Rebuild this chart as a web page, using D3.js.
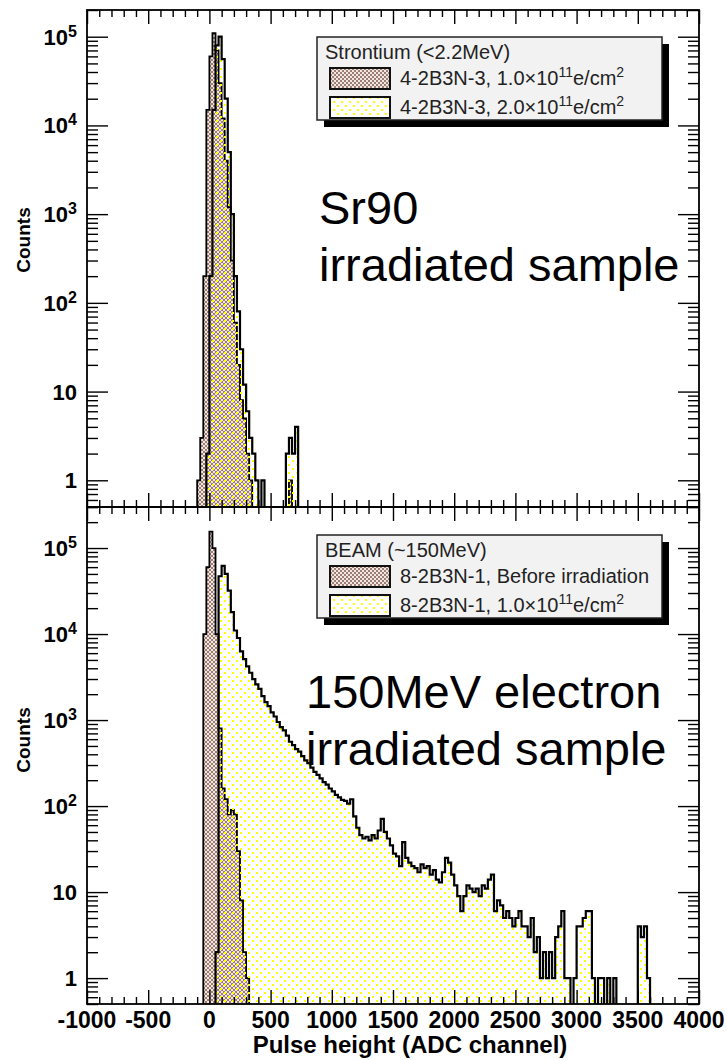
<!DOCTYPE html>
<html>
<head>
<meta charset="utf-8">
<script src="https://cdnjs.cloudflare.com/ajax/libs/d3/7.8.5/d3.min.js"></script>
<style>
  body { margin: 0; background: #fff; }
  text { font-family: "Liberation Sans", Arial, Helvetica, sans-serif; }
</style>
</head>
<body>
<svg id="chart" width="727" height="1060"></svg>
<script>
// every histogram uses 25 ADC channel bins
var binWidth = 25;

// Sr90 panel, first bin starts at -100
var srFirstEdge = -100;
var srCounts1e11 = [1, 3, 200, 15000, 60000, 110000, 70000, 30000, 12000, 4000, 1200, 300, 60, 20, 8, 5, 2, 1,
  0, 0, 0, 0, 0, 0, 0, 0, 0, 0, 0, 0, 1, 0, 0];
var srCounts2e11 = [0, 0, 0, 2, 200, 15000, 80000, 100000, 56000, 20000, 5000, 1000, 200, 80, 30, 12, 6, 3, 2, 1,
  0, 1, 0, 0, 0, 0, 0, 0, 0, 2, 3, 2, 4];

// beam panel, first bin starts at -75
var beamFirstEdge = -75;
var beamCountsBefore = [0, 10000, 60000, 155000, 100000, 10000, 800, 160, 120, 80, 90, 80, 30, 8, 2, 1];
var beamCountsAfter = [0, 0, 0, 0, 0, 2, 47000, 62000, 50000, 32000, 18000, 11000, 9000, 6300, 5100, 4200,
  3550, 3000, 2600, 2300, 1900, 1620, 1450, 1230, 1100, 950, 830, 760, 660, 560, 510, 460,
  430, 380, 340, 316, 280, 250, 230, 210, 190, 178, 160, 148, 135, 126, 118, 115,
  107, 120, 76, 56, 46, 42, 44, 40, 46, 42, 52, 71, 50, 42, 35, 28,
  26, 20, 38, 25, 22, 20, 19, 17, 21, 19, 20, 16, 18, 14, 13, 17,
  25, 22, 16, 12, 9, 6, 9, 12, 11, 10, 11, 9, 12, 11, 14, 16,
  6, 8, 7, 5, 6, 5, 4, 5, 6, 4, 4, 3, 5, 2, 3, 1,
  2, 1, 2, 1, 3, 4, 6, 1, 1, 0, 1, 4, 4, 5, 6, 6,
  1, 0, 1, 1, 0, 1, 0, 1, 0, 0, 0, 0, 0, 0, 0, 4,
  3, 4, 1];

var xTickValues = [-1000, -500, 0, 500, 1000, 1500, 2000, 2500, 3000, 3500, 4000];
var yDecades = [0, 1, 2, 3, 4, 5];

var srLegendTitle = "Strontium (<2.2MeV)";
var srLegendEntries = ["4-2B3N-3, 1.0×10^{11}e/cm^{2}", "4-2B3N-3, 2.0×10^{11}e/cm^{2}"];
var beamLegendTitle = "BEAM (~150MeV)";
var beamLegendEntries = ["8-2B3N-1, Before irradiation", "8-2B3N-1, 1.0×10^{11}e/cm^{2}"];

var srNote = ["Sr90", "irradiated sample"];
var beamNote = ["150MeV electron", "irradiated sample"];

var svg = d3.select("#chart");
var defs = svg.append("defs");

// brown cross-hatch fill
var brown = defs.append("pattern").attr("id", "brownHatch")
  .attr("patternUnits", "userSpaceOnUse").attr("width", 4).attr("height", 4);
brown.append("rect").attr("width", 4).attr("height", 4).attr("fill", "#f1e7e2");
[[0,0],[1,1],[2,2],[3,3],[3,0],[2,1],[1,2],[0,3]].forEach(function(p) {
  brown.append("rect").attr("x", p[0]).attr("y", p[1]).attr("width", 1).attr("height", 1).attr("fill", "#9e7e72");
});

// yellow dotted fill, transparent background
var dots = defs.append("pattern").attr("id", "yellowDots")
  .attr("patternUnits", "userSpaceOnUse").attr("width", 8).attr("height", 8);
[[0,0],[4,4]].forEach(function(p) {
  dots.append("rect").attr("x", p[0]).attr("y", p[1]).attr("width", 2).attr("height", 2).attr("fill", "#ffff00");
});

var x = d3.scaleLinear().domain([-1000, 4000]).range([87, 699]);
var xMinor = d3.range(-1000, 4001, 100).filter(function(v) { return v % 500 !== 0; });

var panels = [
  {y0: 10, y1: 507, yMax: 2e5, firstEdge: srFirstEdge, back: srCounts1e11, front: srCounts2e11,
   legendTitle: srLegendTitle, entries: srLegendEntries, legendY: 37, note: srNote, noteX: 319, noteY: 224,
   titleY: 240, xLabels: false},
  {y0: 507, y1: 1004, yMax: 3e5, firstEdge: beamFirstEdge, back: beamCountsBefore, front: beamCountsAfter,
   legendTitle: beamLegendTitle, entries: beamLegendEntries, legendY: 535, note: beamNote, noteX: 306, noteY: 708,
   titleY: 740, xLabels: true}
];

function addRich(textSel, str, supSize) {
  // split "a^{b}c" into normal and superscript runs
  var parts = str.split(/\^\{|\}/);
  parts.forEach(function(s, i) {
    if (!s) return;
    var t = textSel.append("tspan").text(s);
    if (i % 2 === 1) t.attr("font-size", supSize).attr("baseline-shift", "super");
  });
}

function drawHist(g, firstEdge, counts, y, yBottom, fill, lw) {
  var pts = [[firstEdge, null]];
  counts.forEach(function(c, i) {
    var lo = firstEdge + i * binWidth;
    pts.push([lo, c]);
    pts.push([lo + binWidth, c]);
  });
  pts.push([firstEdge + counts.length * binWidth, null]);
  var line = d3.line()
    .x(function(d) { return x(d[0]); })
    .y(function(d) { return d[1] > 0 ? y(d[1]) : yBottom; });
  g.append("path").attr("d", line(pts) + "Z")
    .attr("fill", fill).attr("stroke", "#000").attr("stroke-width", lw)
    .attr("stroke-linejoin", "miter");
}

panels.forEach(function(p, pi) {
  var y = d3.scaleLog().domain([0.5, p.yMax]).range([p.y1, p.y0]);
  var g = svg.append("g");

  defs.append("clipPath").attr("id", "clip" + pi).append("rect")
    .attr("x", 87).attr("y", p.y0).attr("width", 612).attr("height", p.y1 - p.y0);
  var hg = g.append("g").attr("clip-path", "url(#clip" + pi + ")");
  drawHist(hg, p.firstEdge, p.back, y, p.y1 + 2, "url(#brownHatch)", 1.8);
  drawHist(hg, p.firstEdge, p.front, y, p.y1 + 2, "url(#yellowDots)", 2.2);

  // ticks, all pointing into the frame
  var yMajor = yDecades.map(function(k) { return Math.pow(10, k); });
  var yMinor = [];
  [-1, 0, 1, 2, 3, 4, 5].forEach(function(k) {
    d3.range(2, 10).forEach(function(m) {
      var v = m * Math.pow(10, k);
      if (v >= 0.5 && v <= p.yMax) yMinor.push(v);
    });
  });
  var axes = [
    [d3.axisLeft(y).tickValues(yMajor).tickSize(-21), "translate(87,0)"],
    [d3.axisLeft(y).tickValues(yMinor).tickSize(-11), "translate(87,0)"],
    [d3.axisRight(y).tickValues(yMajor).tickSize(-21), "translate(699,0)"],
    [d3.axisRight(y).tickValues(yMinor).tickSize(-11), "translate(699,0)"],
    [d3.axisTop(x).tickValues(xTickValues).tickSize(-14), "translate(0," + p.y0 + ")"],
    [d3.axisTop(x).tickValues(xMinor).tickSize(-7), "translate(0," + p.y0 + ")"],
    [d3.axisBottom(x).tickValues(xTickValues).tickSize(-14), "translate(0," + p.y1 + ")"],
    [d3.axisBottom(x).tickValues(xMinor).tickSize(-7), "translate(0," + p.y1 + ")"]
  ];
  axes.forEach(function(a) {
    var ag = g.append("g").attr("transform", a[1]).call(a[0].tickFormat(""));
    ag.select(".domain").remove();
    ag.selectAll("line").attr("stroke", "#000").attr("stroke-width", 1.4);
  });

  g.append("rect").attr("x", 87).attr("y", p.y0).attr("width", 612).attr("height", p.y1 - p.y0)
    .attr("fill", "none").attr("stroke", "#000").attr("stroke-width", 1.8);

  // y labels
  yDecades.forEach(function(k) {
    var t = g.append("text").attr("x", 77).attr("y", y(Math.pow(10, k)) + 8)
      .attr("text-anchor", "end").attr("font-weight", "bold").attr("font-size", 22);
    if (k === 0) t.text("1");
    else if (k === 1) t.text("10");
    else addRich(t, "10^{" + k + "}", 16);
  });

  g.append("text").attr("transform", "translate(30," + p.titleY + ") rotate(-90)")
    .attr("text-anchor", "middle").attr("font-weight", "bold").attr("font-size", 19).text("Counts");

  if (p.xLabels) {
    xTickValues.forEach(function(v) {
      g.append("text").attr("x", x(v)).attr("y", 1028).attr("text-anchor", "middle")
        .attr("font-weight", "bold").attr("font-size", 23).text(v);
    });
    g.append("text").attr("x", 410).attr("y", 1053).attr("text-anchor", "middle")
      .attr("font-weight", "bold").attr("font-size", 24).text("Pulse height (ADC channel)");
  }

  // legend box with shadow
  var lg = g.append("g").attr("transform", "translate(317," + p.legendY + ")");
  lg.append("rect").attr("x", 7).attr("y", 7).attr("width", 345).attr("height", 83).attr("fill", "#000");
  lg.append("rect").attr("width", 345).attr("height", 83).attr("fill", "#f2f2f2")
    .attr("stroke", "#222").attr("stroke-width", 1.5);
  lg.append("text").attr("x", 8).attr("y", 22).attr("font-size", 20).attr("fill", "#222").text(p.legendTitle);
  var swatchFill = ["url(#brownHatch)", "url(#yellowDots)"];
  p.entries.forEach(function(e, i) {
    var sy = 31 + i * 29;
    lg.append("rect").attr("x", 13).attr("y", sy).attr("width", 60).attr("height", 21)
      .attr("fill", "#fff").attr("stroke", "none");
    lg.append("rect").attr("x", 13).attr("y", sy).attr("width", 60).attr("height", 21)
      .attr("fill", swatchFill[i]).attr("stroke", "#111").attr("stroke-width", 2);
    var t = lg.append("text").attr("x", 83).attr("y", sy + 17).attr("font-size", 20).attr("fill", "#222");
    addRich(t, e, 14);
  });

  // big annotation text
  p.note.forEach(function(s, i) {
    g.append("text").attr("x", p.noteX).attr("y", p.noteY + i * 57)
      .attr("font-size", 47).attr("fill", "#000").text(s);
  });
});
</script>
</body>
</html>
